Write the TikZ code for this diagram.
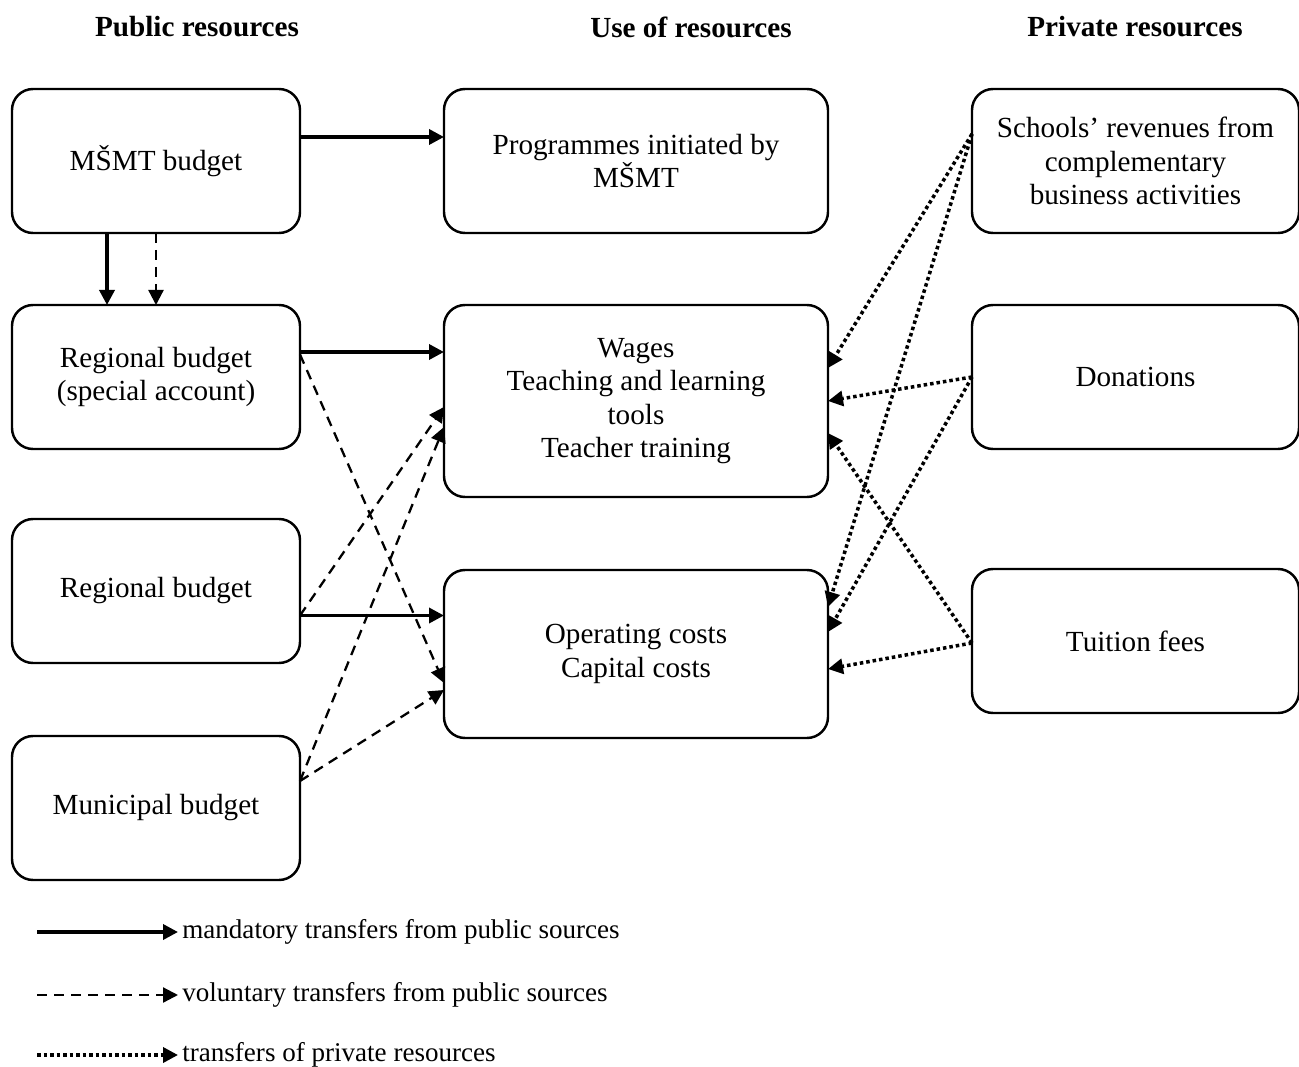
\documentclass[tikz,border=0pt]{standalone}
\usepackage{fontspec}
\setmainfont{Liberation Serif}
\usetikzlibrary{positioning,arrows.meta}

\begin{document}
\begin{tikzpicture}[-{Triangle[length=0.3cm,width=0.3cm]} ,node distance = 1.44cm and 2.88cm ,font=\fontsize{16.6}{19}\selectfont ,box/.style ={ rectangle ,rounded corners=0.42cm ,draw ,line width=1.4pt ,minimum width=5.76cm ,minimum height=2.88cm ,align=center ,inner sep=0pt ,outer sep=0pt} ,mand/.style ={line width=2pt} ,vol/.style ={line width=1.3pt ,dash pattern=on 0.2cm off 0.14cm} ,priv/.style ={line width=2pt ,dash pattern=on 0.07cm off 0.06cm} ,head/.style ={font=\fontsize{16.6}{19}\selectfont\bfseries} ,legend/.style ={anchor=west ,inner sep=0.08cm ,font=\fontsize{15.4}{18}\selectfont}]
\useasboundingbox (0,0) rectangle (25.98,-21.34);
\node[head] (pubhead) at (3.94,-0.54) {Public resources};
\node[head] (usehead) at (13.82,-0.54) {Use of resources};
\node[head] (privhead) at (22.7,-0.54) {Private resources};
\node[box] (msmt) at (3.12,-3.22) {MŠMT budget};
\node[box] (regspec) [below = of msmt] {Regional budget\\(special account)};
\node[box] (reg) [below = 1.4cm of regspec] {Regional budget};
\node[box] (mun) [below = 1.46cm of reg] {Municipal budget};
\node[box ,minimum width=7.68cm] (prog) [right = of msmt] {Programmes initiated by\\MŠMT};
\node[box ,minimum width=7.68cm ,minimum height=3.84cm] (wages) [below = of prog] {Wages\\Teaching and learning\\tools\\Teacher training};
\node[box ,minimum width=7.68cm ,minimum height=3.36cm] (oper) [below = 1.46cm of wages] {Operating costs\\Capital costs};
\node[box ,minimum width=6.54cm] (school) [right = of prog] {Schools’ revenues from\\complementary\\business activities};
\node[box ,minimum width=6.54cm] (don) [below = of school] {Donations};
\node[box ,minimum width=6.54cm] (fees) [below = 2.4cm of don] {Tuition fees};
\path ([yshift=0.48cm]msmt.east) edge [mand] ([yshift=0.48cm]prog.west);
\path ([xshift=-0.98cm]msmt.south) edge [mand] ([xshift=-0.98cm]regspec.north);
\path (msmt.south) edge [vol] (regspec.north);
\path ([yshift=0.5cm]regspec.east) edge [mand] ([yshift=0.5cm]regspec.east -| wages.west);
\path ([yshift=0.45cm]regspec.east) edge [vol] ([yshift=-0.58cm]oper.west);
\path ([yshift=-0.49cm]reg.east) edge [mand] ([yshift=-0.49cm]reg.east -| oper.west);
\path ([yshift=-0.49cm]reg.east) edge [vol] ([yshift=-0.12cm]wages.west);
\path ([yshift=0.54cm]mun.east) edge [vol] ([yshift=-0.52cm]wages.west);
\path ([yshift=0.54cm]mun.east) edge [vol] ([yshift=-0.72cm]oper.west);
\path ([yshift=0.54cm]school.west) edge [priv] ([yshift=0.66cm]wages.east);
\path ([yshift=0.54cm]school.west) edge [priv] ([yshift=0.94cm]oper.east);
\path (don.west) edge [priv] (wages.east);
\path (don.west) edge [priv] ([yshift=0.44cm]oper.east);
\path ([yshift=-0.04cm]fees.west) edge [priv] ([yshift=-0.64cm]wages.east);
\path ([yshift=-0.04cm]fees.west) edge [priv] ([yshift=-0.3cm]oper.east);
\coordinate (mandstart) at (0.74,-18.64);
\coordinate (volstart) at (0.74,-19.9);
\coordinate (privstart) at (0.74,-21.1);
\node[legend] (mandtext) at (3.56,-18.64) {mandatory transfers from public sources};
\node[legend] (voltext) at (3.56,-19.9) {voluntary transfers from public sources};
\node[legend] (privtext) at (3.56,-21.1) {transfers of private resources};
\path (mandstart) edge [mand] (mandtext.west);
\path (volstart) edge [vol] (voltext.west);
\path (privstart) edge [priv] (privtext.west);
\end{tikzpicture}
\end{document}
